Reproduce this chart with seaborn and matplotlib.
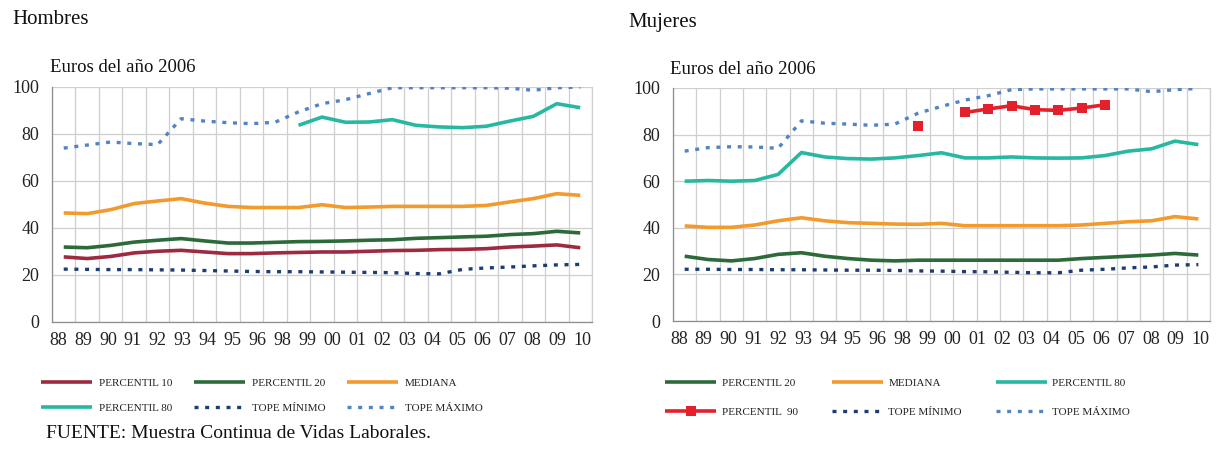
import numpy as np
import pandas as pd
import matplotlib
matplotlib.use("Agg")
import matplotlib.pyplot as plt
import seaborn as sns

# ---------------- data ----------------
years = list(range(1988, 2011))  # 23 categories (1988-2010)
xlabels = ["88", "89", "90", "91", "92", "93", "94", "95", "96", "98", "99",
           "00", "01", "02", "03", "04", "05", "06", "07", "08", "09", "10"]

nan = np.nan
# Hombres
h_p10 = [27.7, 27.0, 27.9, 29.4, 30.1, 30.5, 29.8, 29.1, 29.1, 29.4, 29.6, 29.8,
         29.8, 30.1, 30.4, 30.5, 30.8, 30.9, 31.2, 31.9, 32.3, 32.8, 31.6]
h_p20 = [31.9, 31.6, 32.6, 34.0, 34.8, 35.5, 34.5, 33.6, 33.6, 33.9, 34.2, 34.3,
         34.5, 34.8, 35.0, 35.6, 35.9, 36.2, 36.5, 37.2, 37.6, 38.6, 37.9]
h_med = [46.4, 46.1, 47.8, 50.4, 51.5, 52.5, 50.6, 49.2, 48.7, 48.7, 48.7, 49.9,
         48.7, 48.9, 49.2, 49.2, 49.2, 49.2, 49.6, 51.1, 52.5, 54.6, 53.9]
h_p80 = [nan, nan, nan, nan, nan, nan, nan, nan, nan, nan, 83.7, 87.2,
         85.0, 85.1, 86.1, 83.7, 83.0, 82.7, 83.3, 85.5, 87.5, 92.9, 91.2]
h_tmin = [22.5, 22.4, 22.3, 22.3, 22.2, 22.1, 21.9, 21.7, 21.5, 21.4, 21.4, 21.3,
          21.2, 21.1, 21.0, 20.6, 20.5, 22.4, 23.0, 23.4, 23.9, 24.3, 24.5]
h_tmax = [74.0, 75.3, 76.6, 75.9, 75.5, 86.5, 85.5, 84.8, 84.4, 85.0, 89.4, 92.9,
          94.6, 97.2, 99.7, 99.7, 99.7, 99.7, 99.7, 99.5, 98.6, 99.7, 100.0]

# Mujeres
m_p20 = [27.8, 26.4, 25.8, 26.8, 28.6, 29.3, 27.8, 26.8, 26.1, 25.8, 26.1, 26.1,
         26.1, 26.1, 26.1, 26.1, 26.1, 26.8, 27.3, 27.8, 28.3, 29.0, 28.3]
m_med = [40.8, 40.2, 40.2, 41.2, 43.0, 44.3, 43.0, 42.2, 41.9, 41.6, 41.5, 41.9,
         40.9, 40.9, 40.9, 40.9, 40.9, 41.2, 41.9, 42.6, 43.0, 44.8, 43.8]
m_p80 = [60.0, 60.3, 60.0, 60.3, 62.9, 72.3, 70.4, 69.7, 69.5, 70.0, 71.0, 72.2,
         70.0, 70.0, 70.4, 70.0, 69.9, 70.0, 71.0, 72.9, 73.9, 77.2, 75.7]
m_p90 = [nan, nan, nan, nan, nan, nan, nan, nan, nan, nan, 83.5, nan,
         89.5, 91.0, 92.4, 90.7, 90.4, 91.4, 92.8, nan, nan, nan, nan]
m_tmin = [22.2, 22.2, 22.1, 22.1, 22.0, 22.0, 21.9, 21.8, 21.8, 21.7, 21.5, 21.4,
          21.2, 21.1, 20.9, 20.7, 20.7, 21.8, 22.2, 22.8, 23.2, 24.0, 24.2]
m_tmax = [72.9, 74.4, 74.8, 74.7, 74.1, 85.9, 84.9, 84.5, 84.0, 84.5, 89.2, 92.1,
          94.8, 96.7, 99.3, 99.6, 99.6, 99.6, 99.6, 99.6, 98.4, 99.3, 99.8]

# ---------------- style ----------------
sns.set_theme(style="white")
plt.rcParams['font.family'] = ['Liberation Serif', 'DejaVu Serif']

C_P10 = '#9e2a3f'
C_P20 = '#2d6a3a'
C_MED = '#f39a2c'
C_P80 = '#27b8a2'
C_P90 = '#e3202b'
C_TMIN = '#1c3d73'
C_TMAX = '#5283c4'
GRID = '#cfcfcf'
AXC = '#8c8c8c'
TXT = '#222222'

SOLID_LW = 2.6
DOT_LW = 2.4
DOT_STYLE = (0, (1.2, 2.0))

fig = plt.figure(figsize=(12.3, 4.5), dpi=100)
axL = fig.add_axes([52 / 1230, 1 - 322 / 450, (592 - 52) / 1230, (322 - 87) / 450])
axR = fig.add_axes([673 / 1230, 1 - 321 / 450, (1210 - 673) / 1230, (321 - 88) / 450])

xi = np.arange(len(years))


def draw(ax, vals, color, label, dotted=False, marker=None):
    vals = np.asarray(vals, dtype=float)
    ok = ~np.isnan(vals)
    # split into contiguous runs so gaps stay gaps
    runs = []
    start = None
    for i, v in enumerate(ok):
        if v and start is None:
            start = i
        if (not v) and start is not None:
            runs.append((start, i))
            start = None
    if start is not None:
        runs.append((start, len(vals)))
    for k, (a, b) in enumerate(runs):
        df = pd.DataFrame({"x": xi[a:b], "y": vals[a:b]})
        kw = dict(color=color, ax=ax, label=label if k == 0 else None)
        if dotted:
            kw.update(lw=DOT_LW, linestyle=DOT_STYLE, dash_capstyle='butt')
        else:
            kw.update(lw=SOLID_LW, solid_capstyle='butt')
        if marker:
            kw.update(marker=marker, markersize=7, markeredgewidth=0)
        sns.lineplot(data=df, x="x", y="y", **kw)


def style_axis(ax):
    ax.set_xlim(-0.5, len(years) - 0.5)
    ax.set_ylim(0, 100)
    ax.set_yticks([0, 20, 40, 60, 80, 100])
    ax.set_xticks(np.linspace(-0.25, 22.1, len(xlabels)))
    ax.set_xticklabels(xlabels)
    ax.set_xticks(np.arange(-0.5, len(years)), minor=True)
    ax.tick_params(axis='x', which='major', length=0, pad=7, labelsize=13, colors=TXT)
    ax.tick_params(axis='x', which='minor', length=4, width=0.8, color=AXC, direction='out')
    ax.tick_params(axis='y', which='major', length=4, width=0.8, color=AXC, pad=5,
                   labelsize=13, labelcolor=TXT, direction='out')
    ax.grid(False)
    ax.grid(axis='x', which='minor', color=GRID, lw=0.9)
    ax.grid(axis='y', which='major', color=GRID, lw=0.9)
    ax.set_axisbelow(True)
    ax.spines['top'].set_visible(False)
    ax.spines['right'].set_color(GRID)
    ax.spines['left'].set_color(AXC)
    ax.spines['bottom'].set_color(AXC)
    for s in ['left', 'bottom', 'right']:
        ax.spines[s].set_linewidth(0.9)
    ax.set_xlabel("")
    ax.set_ylabel("")


# ---- Hombres ----
draw(axL, h_p10, C_P10, "PERCENTIL 10")
draw(axL, h_p20, C_P20, "PERCENTIL 20")
draw(axL, h_med, C_MED, "MEDIANA")
draw(axL, h_p80, C_P80, "PERCENTIL 80")
draw(axL, h_tmin, C_TMIN, "TOPE MÍNIMO", dotted=True)
draw(axL, h_tmax, C_TMAX, "TOPE MÁXIMO", dotted=True)
style_axis(axL)

# ---- Mujeres ----
draw(axR, m_p20, C_P20, "PERCENTIL 20")
draw(axR, m_med, C_MED, "MEDIANA")
draw(axR, m_p80, C_P80, "PERCENTIL 80")
draw(axR, m_p90, C_P90, "PERCENTIL  90", marker='s')
draw(axR, m_tmin, C_TMIN, "TOPE MÍNIMO", dotted=True)
draw(axR, m_tmax, C_TMAX, "TOPE MÁXIMO", dotted=True)
style_axis(axR)


# ---- legends (row-wise order) ----
def row_order(ax, order):
    h, l = ax.get_legend_handles_labels()
    d = dict(zip(l, h))
    # ncol=3 fills column-wise: reorder so that rows read left-to-right
    seq = [order[0], order[3], order[1], order[4], order[2], order[5]]
    return [d[k] for k in seq], seq


hL, lL = row_order(axL, ["PERCENTIL 10", "PERCENTIL 20", "MEDIANA",
                         "PERCENTIL 80", "TOPE MÍNIMO", "TOPE MÁXIMO"])
legL = axL.legend(hL, lL, ncol=3, loc='upper left', frameon=False,
                  bbox_to_anchor=(41 / 1230, 1 - 378 / 450), bbox_transform=fig.transFigure,
                  fontsize=8, handlelength=4.6, handletextpad=0.6, columnspacing=1.95,
                  labelspacing=1.35, borderpad=0, borderaxespad=0)

hR, lR = row_order(axR, ["PERCENTIL 20", "MEDIANA", "PERCENTIL 80",
                         "PERCENTIL  90", "TOPE MÍNIMO", "TOPE MÁXIMO"])
legR = axR.legend(hR, lR, ncol=3, loc='upper left', frameon=False,
                  bbox_to_anchor=(665 / 1230, 1 - 378 / 450), bbox_transform=fig.transFigure,
                  fontsize=8, handlelength=4.6, handletextpad=0.5, columnspacing=3.05,
                  labelspacing=1.75, borderpad=0, borderaxespad=0)
for leg in (legL, legR):
    for t in leg.get_texts():
        t.set_color(TXT)

# ---- titles / text ----
fig.text(12 / 1230, 1 - 20 / 450, "Hombres", fontsize=15, va='center', ha='left', color='#111111')
fig.text(50 / 1230, 1 - 67 / 450, "Euros del año 2006", fontsize=13.5, va='center', ha='left', color='#111111')
fig.text(628 / 1230, 1 - 22 / 450, "Mujeres", fontsize=15, va='center', ha='left', color='#111111')
fig.text(670 / 1230, 1 - 70 / 450, "Euros del año 2006", fontsize=13.5, va='center', ha='left', color='#111111')
fig.text(46 / 1230, 1 - 434 / 450, "FUENTE: Muestra Continua de Vidas Laborales.", fontsize=14,
         va='center', ha='left', color='#111111')

fig.savefig("out.png", dpi=100)
